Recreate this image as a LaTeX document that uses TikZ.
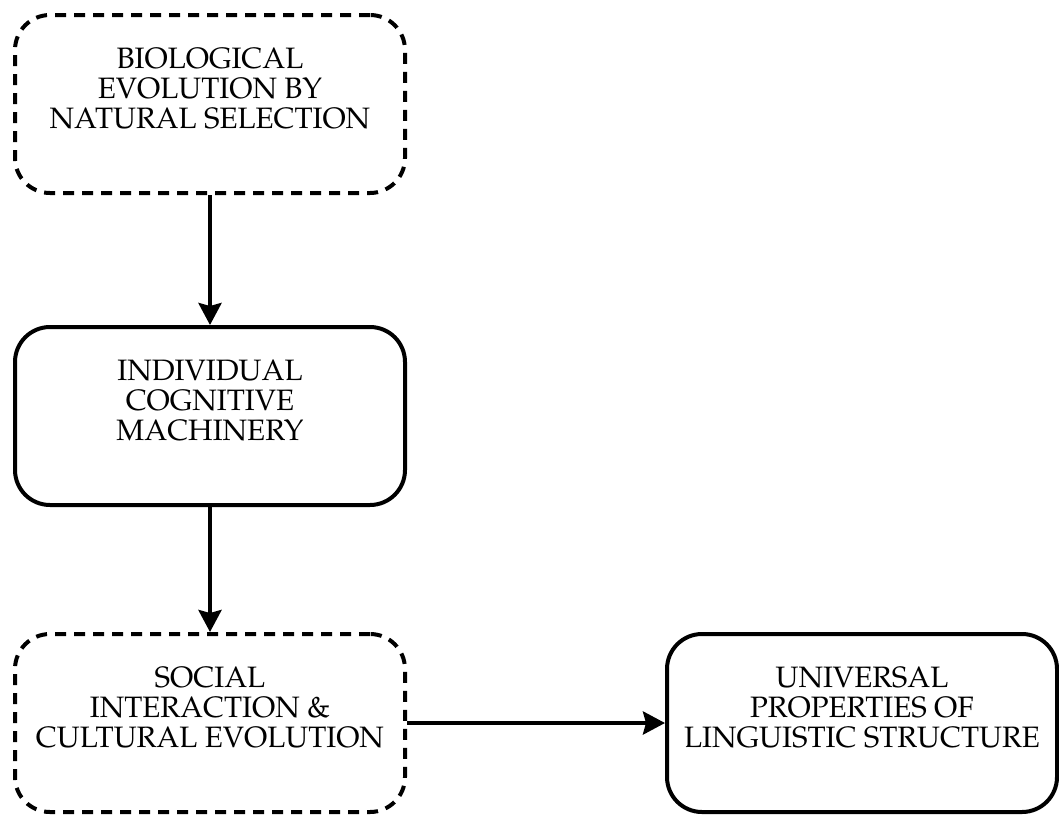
\documentclass[tikz,border=0pt]{standalone}
\usepackage[T1]{fontenc}
\usepackage{mathpazo}
\usetikzlibrary{arrows.meta,calc}
\begin{document}
\begin{tikzpicture}[x=1pt,y=-1pt,
  box/.style={draw, line width=4pt, rounded corners=35pt,
    minimum width=390pt, minimum height=178pt, inner sep=0pt},
  dashedbox/.style={box, dash pattern=on 11pt off 8pt},
  lbl/.style={align=center, inner sep=0pt,
    font=\fontsize{29.5}{30}\selectfont},
  link/.style={line width=4pt,
    -{Stealth[length=22pt,width=23pt,inset=3pt]}}]
\useasboundingbox (0,0) rectangle (1059,814);

% boxes
\node[dashedbox] (bio) at (210,104) {};
\node[box]       (cog) at (210,416) {};
\node[dashedbox] (soc) at (210,723) {};
\node[box]       (uni) at (862,723) {};

% labels, set a little above each box centre
\node[lbl] (bioText) at ($(bio)+(0,-15)$) {BIOLOGICAL\\EVOLUTION BY\\NATURAL SELECTION};
\node[lbl] (cogText) at ($(cog)+(0,-15)$) {INDIVIDUAL\\COGNITIVE\\MACHINERY};
\node[lbl] (socText) at ($(soc)+(0,-15)$) {SOCIAL\\INTERACTION \&\\CULTURAL EVOLUTION};
\node[lbl] (uniText) at ($(uni)+(0,-15)$) {UNIVERSAL\\PROPERTIES OF\\LINGUISTIC STRUCTURE};

% connectors
\draw[link] (bio.south) -- (cog.north);
\draw[link] (cog.south) -- (soc.north);
\draw[link] (soc.east) -- (uni.west);
\end{tikzpicture}
\end{document}
